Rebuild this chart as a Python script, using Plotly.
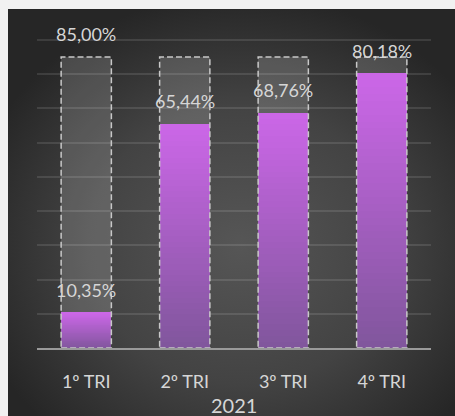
import base64
import plotly.graph_objects as go

# Quarterly results vs. target, 2021
categories = ["1º TRI", "2º TRI", "3º TRI", "4º TRI"]
target = [85.00, 85.00, 85.00, 85.00]
actual = [10.35, 65.44, 68.76, 80.18]
year_label = "2021"

FONT = "Lato"
TEXT_COLOR = "#d6d6d6"
BAR_WIDTH = 0.51
N_SLICES = 40
TOP_RGB = (0xCC, 0x67, 0xE8)
BOTTOM_RGB = (0x80, 0x56, 0x9C)

W, H = 455, 416
ML, MR, MT, MB = 37, 24, 36, 68
PW, PH = W - ML - MR, H - MT - MB
# 90 % sits 308 px above the baseline; leave a little headroom so the top gridline shows
Y_MAX = 90 * PH / 308


def fmt(v):
    return f"{v:.2f}".replace(".", ",") + "%"


def mix(t):
    r, g, b = (round(BOTTOM_RGB[i] + (TOP_RGB[i] - BOTTOM_RGB[i]) * t) for i in range(3))
    return f"rgb({r},{g},{b})"


xs = list(range(len(categories)))
fig = go.Figure()

# target bars (grey fill)
fig.add_trace(go.Bar(
    x=xs, y=target, width=BAR_WIDTH,
    marker=dict(color="rgba(255,255,255,0.16)", line=dict(width=0)),
    name="Meta", hoverinfo="skip",
))

# actual bars, filled with a vertical gradient built from stacked slices
for k in range(N_SLICES):
    t = (k + 0.5) / N_SLICES
    fig.add_trace(go.Bar(
        x=xs,
        y=[v / N_SLICES * 1.02 for v in actual],
        base=[v * k / N_SLICES for v in actual],
        width=BAR_WIDTH,
        marker=dict(color=mix(t), line=dict(width=0)),
        showlegend=False, hoverinfo="skip",
    ))

# dashed outline of each target bar
shapes = []
for i, tv in zip(xs, target):
    shapes.append(dict(
        type="rect", xref="x", yref="y",
        x0=i - BAR_WIDTH / 2, x1=i + BAR_WIDTH / 2, y0=0, y1=tv,
        line=dict(color="#c8c8c8", width=1.5, dash="6px,3px"),
        fillcolor="rgba(0,0,0,0)", layer="above",
    ))

# value labels
annotations = []
annotations.append(dict(
    x=xs[0], y=target[0], xref="x", yref="y", text=fmt(target[0]),
    showarrow=False, yanchor="middle", yshift=23,
    font=dict(family=FONT, size=18, color=TEXT_COLOR),
))
for i, v in zip(xs, actual):
    annotations.append(dict(
        x=i, y=v, xref="x", yref="y", text=fmt(v),
        showarrow=False, yanchor="middle", yshift=23,
        font=dict(family=FONT, size=18, color=TEXT_COLOR),
    ))
annotations.append(dict(
    x=0.5, y=(PH - (405 - MT)) / PH, xref="paper", yref="paper",
    text=year_label, showarrow=False, yanchor="middle", xanchor="center",
    font=dict(family=FONT, size=20, color=TEXT_COLOR),
))

# dark panel with radial shading behind the chart
svg = (
    '<svg xmlns="http://www.w3.org/2000/svg" width="447" height="407" '
    'viewBox="0 0 447 407" preserveAspectRatio="none"><defs>'
    '<radialGradient id="g" cx="0.52" cy="0.58" r="0.62">'
    '<stop offset="0" stop-color="#565656"/>'
    '<stop offset="0.55" stop-color="#434343"/>'
    '<stop offset="1" stop-color="#262626"/>'
    '</radialGradient></defs>'
    '<rect width="447" height="407" fill="url(#g)"/></svg>'
)
src = "data:image/svg+xml;base64," + base64.b64encode(svg.encode()).decode()
panel_x0, panel_y0 = 8, 9
images = [dict(
    source=src, xref="paper", yref="paper",
    x=(panel_x0 - ML) / PW, y=(H - MB - panel_y0) / PH,
    sizex=(W - panel_x0) / PW, sizey=(H - panel_y0) / PH,
    xanchor="left", yanchor="top", sizing="stretch", layer="below",
)]

fig.update_layout(
    width=W, height=H,
    margin=dict(l=ML, r=MR, t=MT, b=MB, pad=0),
    paper_bgcolor="#f1f1f1",
    plot_bgcolor="rgba(0,0,0,0)",
    barmode="overlay",
    bargap=0,
    showlegend=False,
    shapes=shapes,
    annotations=annotations,
    images=images,
    xaxis=dict(
        range=[-0.5, 3.5], tickvals=xs, ticktext=categories,
        showgrid=False, zeroline=False,
        showline=True, linecolor="#9a9a9a", linewidth=2,
        ticks="", ticklabelstandoff=16,
        tickfont=dict(family=FONT, size=18, color=TEXT_COLOR),
        fixedrange=True,
    ),
    yaxis=dict(
        range=[0, Y_MAX], tickvals=list(range(10, 100, 10)), showticklabels=False,
        showgrid=True, gridcolor="rgba(255,255,255,0.11)", gridwidth=1.5,
        zeroline=False, fixedrange=True,
    ),
)

fig.write_html("out.html", config=dict(displayModeBar=False))
